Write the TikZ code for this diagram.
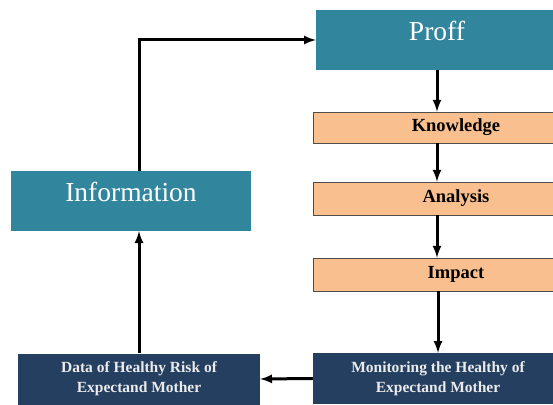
\documentclass[tikz,border=0pt]{standalone}
\usepackage{fontspec}
\setmainfont{Liberation Serif}
\usepackage{tikz}
\tikzset{>=latex}
\usetikzlibrary{calc}
\definecolor{myteal}{HTML}{31859C}
\definecolor{myorange}{HTML}{FABF8F}
\definecolor{mynavy}{HTML}{243F60}

\tikzset{
	tealbox/.style={fill=myteal,text=white,inner sep=0pt,text depth=29.5pt,text height=30.5pt,font=\fontsize{27.5}{30}\selectfont},
	orangebox/.style={fill=myorange,draw=black!70,line width=0.8pt,inner sep=0pt,font=\fontsize{18.5}{20}\selectfont\bfseries},
	navybox/.style={fill=mynavy,text=white!92!black,inner sep=0pt,align=center,font=\fontsize{15.5}{20}\selectfont\bfseries},
	flow/.style={->,line width=3pt}
}

\begin{document}
\begin{tikzpicture}[x=1pt,y=-1pt]
		\useasboundingbox (0,0) rectangle (553,404);
		\clip (0,0) rectangle (553,404);

		\node[tealbox,minimum width=242pt] (proff) at (437,40) {Proff};
		\node[tealbox,minimum width=240pt] (info) at (131,201) {Information};
		\node[orangebox,minimum width=286pt,minimum height=31pt] (know) at (456,127.5) {Knowledge};
		\node[orangebox,minimum width=286pt,minimum height=33pt] (anal) at (456,198.5) {Analysis};
		\node[orangebox,minimum width=286pt,minimum height=33pt] (imp) at (456,274.5) {Impact};
		\node[navybox,minimum width=250pt,minimum height=51pt] (mon) at (438,378.5) {Monitoring the Healthy of\\Expectand Mother};
		\node[navybox,minimum width=242pt,minimum height=51pt] (data) at (139,379) {Data of Healthy Risk of\\Expectand Mother};

		% right column, top to bottom
		\draw[flow] (proff.south) -- (proff.south |- know.north);
		\draw[flow] (know.south -| proff.south) -- (proff.south |- anal.north);
		\draw[flow] (anal.south -| proff.south) -- (proff.south |- imp.north);
		\draw[flow] (imp.south -| mon.north) -- (mon.north);
		% back along the bottom and up the left
		\draw[flow] (mon.west) -- (data.east);
		\draw[flow] (data.north) -- (data.north |- info.south);
		\draw[flow] (info.north -| data.north) |- (proff.west);
	\end{tikzpicture}
\end{document}
